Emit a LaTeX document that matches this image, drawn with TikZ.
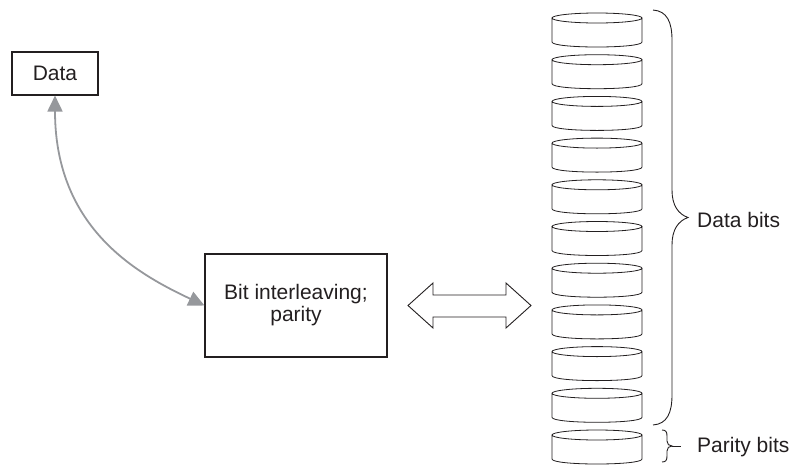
\documentclass[tikz,border=0pt]{standalone}
\usepackage{fontspec}
\setmainfont{Liberation Sans}
\usetikzlibrary{arrows.meta}
\definecolor{ink}{RGB}{35,31,32}
\definecolor{arrowgray}{RGB}{150,152,156}
\begin{document}
\begin{tikzpicture}[x=1pt,y=-1pt,
  box/.style={draw=ink, line width=1.1pt, inner sep=0pt, text=ink},
  lbl/.style={font=\fontsize{21}{22}\selectfont, inner sep=0pt, text=ink},
  disk/.style={draw=ink, line width=0.8pt, fill=white},
  brc/.style={draw=ink, line width=0.9pt},
  link/.style={draw=arrowgray, line width=1.8pt, {Triangle[length=16pt,width=15pt]}-{Triangle[length=16pt,width=15pt]}},
  hollow/.style={draw=ink, line width=0.9pt, fill=white}
]
\useasboundingbox (0,0) rectangle (796,469);

\node[box, minimum width=86pt, minimum height=43pt, lbl] (data) at (55,73.5) {Data};
\node[box, minimum width=182pt, minimum height=103pt, lbl, align=center] (bit) at (296,305.5) {Bit interleaving;\\parity};

\draw[link] (data.south) .. controls (55,230) and (140,275) .. (bit.west);

% hollow double arrow
\path[hollow] (408,305.5) -- (433,283) -- (433,295) -- (506,295) -- (506,283) -- (531,305.5) -- (506,328) -- (506,317) -- (433,317) -- (433,328) -- cycle;

% disks
\foreach \i in {0,...,10}{
  \pgfmathsetmacro\yt{18+41.7*\i}
  \pgfmathsetmacro\yb{\yt+24}
  \pgfmathsetmacro\yc{\yb+6.67}
  \path[disk] (552,\yt) -- (552,\yb) .. controls (552,\yc) and (642,\yc) .. (642,\yb) -- (642,\yt)
    (597,\yt) ellipse [x radius=45, y radius=5];
}

% data bits brace
\draw[brc] (653,10) .. controls (667,11) and (672,22) .. (672,40) -- (672,190)
  .. controls (672,205) and (678,214) .. (688,217.5)
  .. controls (678,221) and (672,230) .. (672,245) -- (672,395)
  .. controls (672,413) and (667,424) .. (653,425);
% parity bits brace
\draw[brc] (662,430) .. controls (666,430) and (667,432) .. (667,436) -- (667,441)
  .. controls (667,444) and (669,446) .. (672,446)
  .. controls (669,446) and (667,448) .. (667,451) -- (667,456)
  .. controls (667,460) and (666,462) .. (662,462);
\draw[brc] (672,446) -- (681,446);

\node[lbl, anchor=west] (databits) at (697,219.5) {Data bits};
\node[lbl, anchor=west] (paritybits) at (697,447) {Parity bits};
\end{tikzpicture}
\end{document}
